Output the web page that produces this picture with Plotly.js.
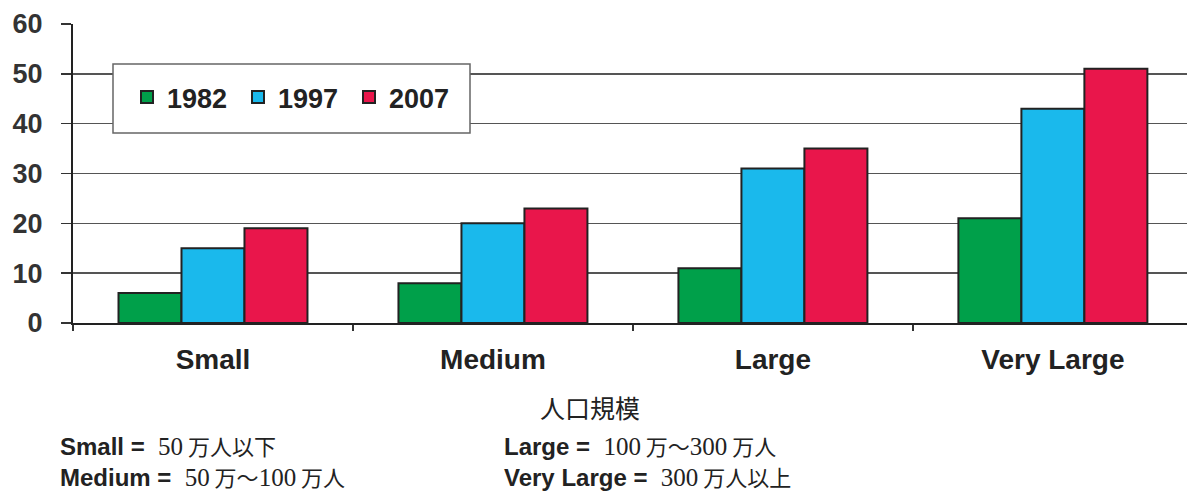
<!DOCTYPE html>
<html>
<head>
<meta charset="utf-8">
<script src="https://cdn.plot.ly/plotly-3.0.1.min.js"></script>
<style>html,body{margin:0;padding:0;background:#fff;}#chart{width:1187px;height:495px;}</style>
</head>
<body>
<div id="chart"></div>
<script>
const categories = ["Small", "Medium", "Large", "Very Large"];
const seriesNames = ["1982", "1997", "2007"];
const values1982 = [6, 8, 11, 21];
const values1997 = [15, 20, 31, 43];
const values2007 = [19, 23, 35, 51];
const yTicks = [0, 10, 20, 30, 40, 50, 60];
const xTitle = "人口規模";
const notes = [
  ["Small", "50", " 万人以下"],
  ["Medium", "50", " 万〜", "100", " 万人"],
  ["Large", "100", " 万〜", "300", " 万人"],
  ["Very Large", "300", " 万人以上"]
];

const colors = ["#00A04A", "#1AB9EC", "#E9164B"];
const seriesValues = [values1982, values1997, values2007];

const traces = seriesValues.map((v, i) => ({
  type: "bar",
  name: seriesNames[i],
  x: categories,
  y: v,
  marker: {color: colors[i], line: {color: "#222", width: 2}},
  hoverinfo: "skip"
}));

const SERIF = "Liberation Serif, serif";
const CJK = "Noto Sans CJK JP, sans-serif";
function noteText(parts) {
  let s = "<b>" + parts[0] + " =  </b>";
  for (let k = 1; k < parts.length; k++) {
    const p = parts[k];
    if (/^[0-9]+$/.test(p)) s += "<span style='font-family:" + SERIF + ";font-size:25px'>" + p + "</span>";
    else s += "<span style='font-family:" + CJK + ";font-size:22px'>" + p + "</span>";
  }
  return s;
}
const notePos = [[58, 445], [58, 476], [502, 445], [502, 476]];
const annotations = notes.map((n, i) => ({
  xref: "paper", yref: "paper",
  x: (notePos[i][0] - 73) / 1114,
  y: (323 - notePos[i][1]) / 299,
  xanchor: "left", yanchor: "middle",
  text: noteText(n),
  showarrow: false,
  font: {family: "Liberation Sans, Arial, sans-serif", size: 24, color: "#222"}
}));
annotations.push({
  xref: "paper", yref: "paper",
  x: (590 - 73) / 1114, y: (323 - 407) / 299,
  xanchor: "center", yanchor: "middle",
  text: xTitle, showarrow: false,
  font: {family: CJK, size: 25, color: "#222"}
});

const layout = {
  width: 1187, height: 495,
  margin: {l: 73, r: 0, t: 24, b: 172},
  paper_bgcolor: "#ffffff",
  plot_bgcolor: "#ffffff",
  barmode: "group",
  bargap: 0.325,
  bargroupgap: 0,
  showlegend: true,
  legend: {
    orientation: "h",
    x: (127 - 73) / 1114, y: (323 - 73) / 299,
    xanchor: "left", yanchor: "top",
    bgcolor: "rgba(0,0,0,0)",
    borderwidth: 0,
    font: {family: "Liberation Sans, Arial, sans-serif", size: 27, color: "#222", weight: "bold"},
    itemwidth: 30,
    entrywidth: 66,
    traceorder: "normal"
  },
  shapes: [{
    type: "rect", xref: "paper", yref: "paper", layer: "above",
    x0: (113 - 73) / 1114, x1: (470 - 73) / 1114,
    y0: (323 - 133) / 299, y1: (323 - 64) / 299,
    fillcolor: "#ffffff", line: {color: "#666", width: 1.5}
  }],
  xaxis: {
    type: "category",
    range: [-0.5, 3.479],
    showline: true, linecolor: "#222", linewidth: 2,
    ticks: "outside", tickson: "boundaries", ticklen: 6, tickcolor: "#333", tickwidth: 1.5,
    showgrid: false,
    tickfont: {family: "Liberation Sans, Arial, sans-serif", size: 28, color: "#222", weight: "bold"},
    ticklabelstandoff: 10,
    fixedrange: true
  },
  yaxis: {
    range: [0, 60],
    tickvals: yTicks,
    showline: true, linecolor: "#222", linewidth: 2,
    ticks: "outside", ticklen: 10, tickcolor: "#333", tickwidth: 1.5,
    showgrid: true, gridcolor: "#555", gridwidth: 1.5,
    zeroline: false,
    tickfont: {family: "Liberation Sans, Arial, sans-serif", size: 27, color: "#333", weight: "bold"},
    ticklabelstandoff: 13,
    fixedrange: true
  },
  annotations: annotations
};

Plotly.newPlot("chart", traces, layout, {displayModeBar: false, staticPlot: true});
</script>
</body>
</html>
